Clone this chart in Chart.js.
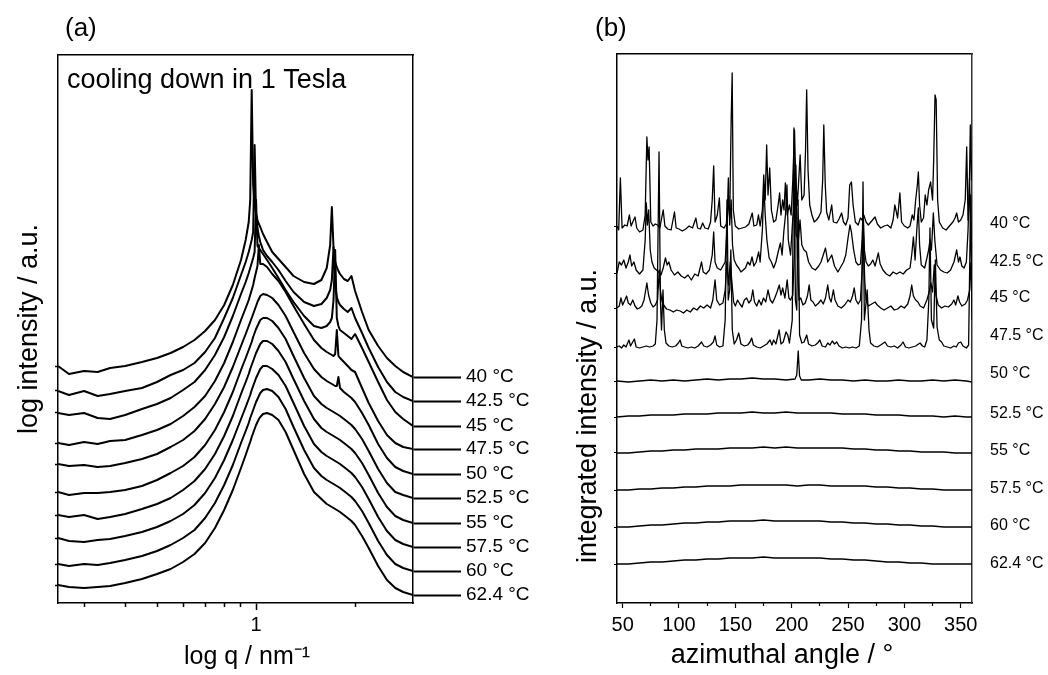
<!DOCTYPE html>
<html>
<head>
<meta charset="utf-8">
<script src="https://cdn.jsdelivr.net/npm/chart.js@4"></script>
<style>
  html, body { margin: 0; padding: 0; background: #fff; }
  #wrap { position: relative; width: 1048px; height: 675px; overflow: hidden; background: #fff; }
  canvas { position: absolute; top: 0; }
  #chartA { left: 0; }
  #chartB { left: 560px; }
</style>
</head>
<body>
<div id="wrap">
  <canvas id="chartA" width="560" height="675"></canvas>
  <canvas id="chartB" width="488" height="675"></canvas>
</div>
<script>
// ---- panel (a): SAXS profiles, q in nm^-1, log intensity (a.u., offset per temperature)
const qA = [0.25,0.27,0.3,0.33,0.36,0.4,0.45,0.5,0.55,0.6,
  0.65,0.7,0.75,0.8,0.85,0.9,0.93,0.95,0.96,0.97,
  0.98,0.99,1.0,1.01,1.02,1.03,1.05,1.08,1.12,1.17,
  1.23,1.3,1.4,1.5,1.58,1.64,1.68,1.7,1.72,1.74,
  1.76,1.78,1.8,1.85,1.9,1.95,2.0,2.1,2.2,2.35,
  2.5,2.65,2.8,3.0];

const a40 = [237,229,232,231,235,237,241,245,250,256, 263,272,283,298,318,343,363,381,403,513,
  418,398,389,383,379,376,369,361,351,344, 336,327,321,319,323,335,358,396,355,341,
  336,332,329,324,322,327,312,291,273,257, 245,237,231,226];
const a425 = [212,208,212,207,209,212,215,221,228,233, 240,251,265,285,305,328,341,351,357,363,
  371,458,388,375,367,361,353,347,341,333, 322,311,301,297,299,305,313,323,356,319,
  306,301,298,294,291,295,285,270,255,236, 221,211,206,202];
const a45 = [190,188,190,185,184,188,194,199,205,213, 221,233,248,266,287,309,321,330,335,340,
  345,351,403,357,355,353,349,343,335,325, 313,301,287,277,275,277,281,285,303,353,
  285,277,273,270,267,264,269,255,241,221, 203,191,184,177];
const a475 = [160,158,161,159,162,163,168,173,179,187, 196,207,222,240,261,283,295,303,308,313,
  318,325,331,337,358,339,339,336,329,322, 311,297,279,263,255,251,249,248,247,249,
  273,247,245,241,237,233,231,215,200,182, 168,160,156,154];
const a50 = [139,137,138,136,137,140,144,149,156,163, 172,184,199,216,236,257,269,277,281,285,
  289,293,297,301,304,307,309,308,305,298, 287,271,250,234,226,222,220,219,218,217,
  217,226,215,211,208,205,201,190,178,159, 145,136,132,129];
const a525 = [111,108,110,110,111,113,117,123,130,137, 146,158,173,191,211,233,245,253,257,261,
  266,270,274,277,280,283,285,285,282,275, 264,247,225,207,199,195,193,192,191,190,
  189,188,187,184,181,178,174,164,152,134, 120,111,108,105];
const a55 = [88,86,88,84,86,89,94,99,105,113, 122,134,149,167,187,209,221,229,234,238,
  242,246,250,253,256,259,262,262,259,252, 241,224,202,184,175,171,169,168,167,166,
  165,164,163,160,157,154,150,140,128,110, 96,87,83,80];
const a575 = [65,62,61,63,64,67,71,76,82,89, 98,110,125,143,163,184,196,204,208,213,
  217,221,225,228,231,234,237,237,234,228, 217,200,177,159,151,147,145,144,143,142,
  141,140,139,136,133,130,126,116,104,86, 72,63,59,56];
const a60 = [39,37,39,38,40,43,47,52,58,65, 73,85,100,118,138,160,172,180,185,189,
  193,197,201,204,207,210,213,214,212,206, 194,176,153,135,127,123,121,120,119,118,
  117,116,115,112,109,106,102,92,80,62, 48,39,35,32];
const a624 = [18,16,15,16,17,20,24,29,34,41, 49,60,75,93,113,135,148,157,161,166,
  170,174,178,181,184,186,189,190,188,183, 171,153,129,111,104,99,97,96,95,94,
  93,92,91,88,85,82,78,67,55,37, 23,15,11,8];

const tempLabels = ['40 °C','42.5 °C','45 °C','47.5 °C','50 °C','52.5 °C','55 °C','57.5 °C','60 °C','62.4 °C'];
const qMajor = [1];
const qMinor = [0.3,0.4,0.5,0.6,0.7,0.8,0.9,2];

// ---- panel (b): azimuthal profiles, angle in degrees, integrated intensity (a.u., offset)
const b40Angle = [45,46.5,48,49.5,52,54,56,57.5,59,61,
  62.5,65,68,70,71.5,72.5,73.5,75,77,79,
  81,83,86,87.5,90,93,96,97.5,100,103,
  106,109,112,115,116.5,119,121,123,126,128,
  129.5,130.8,132,134,135.8,137,140,142,143.5,145,
  146.3,147.2,148.2,150,153,156,159,162,165,166.5,
  169,170.5,172,174,175.2,176.5,177.8,179,180.5,182,
  184,186,188,189.3,190.5,192,193.2,194.4,196,198,
  199.5,201,202.5,203.5,205,206.5,207.5,209,211,212.3,
  213.3,214.5,216,218,220,222,224,226,227.5,228.5,
  229.8,231,233,235.5,237,240,242,244.3,246,248,
  250,251.5,253,254.5,256.5,259,261,262.5,264,266,
  268,271,274,276,279,282,285,288,290,291.5,
  292.5,294,296,297.5,300,303,305,307,308.5,310,
  311.5,312.4,313.5,315,317,318.5,320,321.5,323.3,325,
  326,327.2,328.2,329.5,331,334,337,340,343,345,
  346.4,348,350,352,354,355.3,356.5,357.5,358.5,359.5,
  360];
const b40 = [377,373,425,375,378,377,388,377,381,386,
  375,371,373,388,466,443,456,381,377,379,
  378,375,393,377,374,373,391,375,374,372,
  374,377,375,385,375,374,380,375,374,381,
  403,437,381,388,405,377,375,379,401,385,
  483,530,393,377,374,375,376,379,390,377,
  378,388,377,393,428,403,458,408,435,393,
  381,383,398,410,388,403,393,420,388,398,
  388,423,473,428,398,428,448,403,408,453,
  513,433,398,388,381,383,386,391,423,478,
  418,391,383,398,381,380,384,390,381,378,
  385,418,421,398,381,378,385,383,388,381,
  378,382,386,379,375,377,378,375,383,398,
  393,385,410,381,377,375,377,388,383,403,
  418,431,398,381,385,408,398,413,421,403,
  443,508,503,403,381,375,373,377,381,385,
  390,381,383,388,403,456,383,403,478,423,
  443];

const b425Angle = [45,47,49,51,53,55,56.5,58,60,62,
  65,68,70,71,72,73.1,74.5,76,78,80,
  82,84,86,88,89.5,91,93,96,99,102,
  105,108,111,114,117,120,121.5,124,127,129.5,
  130.8,132,134,137,139,141,142.5,143.8,145,146.3,
  147.5,149,151,153,155,157,159,161,163,164.8,
  166.5,168.5,170.7,172,174,175.3,176.5,178,180,182,
  184,186,188,190,191.5,193,194.5,195.8,197,199,
  201,202.5,204,206,207.4,209,211,213,215,218,
  221,224,226,228,230,232,235.5,238,241,244,
  246,248,250,251.7,253,255,257,259,261,262.5,
  263.5,264.5,266,268,270,272,274,276.9,278.5,281,
  284,287,290,293,296,299,302,305,306.5,308,
  309.5,311,312.4,313.5,315,318,320,321.5,322.7,324,
  325.7,327,329,332,335,338,341,344,346.4,348,
  349.3,351,353,355,356.5,357.8,359,360];
const b425 = [330,341,338,343,335,341,348,337,341,333,
  329,333,363,400,378,393,353,341,335,333,
  331,328,335,345,338,341,333,328,331,327,
  325,328,323,329,327,341,331,329,333,348,
  371,341,335,333,337,341,373,425,378,403,
  358,343,338,335,331,333,335,341,338,346,
  337,341,351,341,373,418,388,363,345,341,
  335,341,351,360,348,371,388,418,363,348,
  385,398,368,363,383,358,353,351,341,335,
  333,337,341,348,355,341,348,337,331,337,
  341,348,365,378,371,353,341,338,339,363,
  388,353,341,337,339,343,337,350,339,333,
  329,327,331,329,331,329,333,335,348,366,
  343,373,395,358,338,335,345,353,363,353,
  390,363,338,333,331,330,333,341,353,341,
  346,337,335,341,373,425,363,338];

const b45Angle = [45,47,48.5,50,52,53.5,55,57,59,61,
  63,65,67,69,71.5,73,75,77,79,81,
  82.5,83.5,85,87,89,92,95,98,101,104,
  107,110,113,116,119,122,125,128,130,132,
  133.5,136,139,141,142.5,144,145.5,146.8,148.5,150,
  152,154,156,158,160,162,164,165.5,167,169,
  171,173,175,177,179,181,183,185,187,189,
  190.5,192,194,196,197.5,199,201,202.5,203.7,205,
  206.5,208,210,212,214,215.5,217,219,221,224,
  226,228,230,232,233.5,235,237,238.5,241,244,
  247,250,252,254,255.5,257,259,261,262.5,263.7,
  264.8,266,268,271,274,276,279,282,285,288,
  291,294,297,300,303,305,306.5,308,310,312,
  314,317,320,322,323.5,325,326.5,328,330,333,
  336,339,342,344,345.5,347.5,349,351,354,356,
  358,359,360];
const b45 = [295,297,305,298,303,307,300,298,303,297,
  294,295,297,303,320,308,300,296,298,303,
  333,313,301,297,294,293,291,293,292,290,
  293,291,295,293,297,295,298,295,303,323,
  303,298,300,313,341,318,341,323,301,297,
  303,299,296,303,305,300,303,313,301,297,
  303,298,305,301,313,303,300,305,311,318,
  308,315,305,323,305,303,308,353,438,348,
  303,305,298,300,307,318,303,301,297,300,
  303,299,305,318,305,301,313,303,297,295,
  298,303,301,307,315,303,299,303,333,368,
  323,303,297,299,301,298,295,293,295,297,
  293,294,297,295,299,307,318,307,303,301,
  297,295,303,311,320,311,338,308,298,295,
  297,296,299,303,298,307,301,297,299,303,
  313,340,313];

const b475Angle = [45,47,49,51,53,55.6,57,60.4,62,65,
  68,71,74,77,79,80.5,82.3,83.5,84.5,85.8,
  87,88.5,91,94,97,99.5,101,102.5,105,108,
  111,114,117,120,122,125,128,130.5,132,133.5,
  136,139,141,142.6,143.7,145,146,147.3,149,151,
  153,155,158,161,163,164.5,166,169,172,175,
  178,180.8,182.5,184,186,188.9,190.5,192.5,195,196.5,
  198,200.5,202,203.3,204.5,205.7,207,209,211,213.3,
  215,218,221,223,225,227,230,232,234,236,
  238,240,242,245,248,251,254,257,260,262,
  263.3,264.5,265.8,267,268.6,270,273,276,279,282.8,
  285,288,291,294,297,298.8,301,304,307,310,
  313.9,316,318,320,321.7,322.7,324,326,327.5,329,
  331,333,335,338,341,344,346,348,350,352,
  355,357,358.8,360];
const b475 = [256,257,255,258,256,263,257,264,256,255,
  256,257,256,257,259,283,451,303,273,313,
  273,260,257,256,257,260,263,257,256,255,
  256,255,257,261,257,256,258,261,267,258,
  256,257,283,403,303,313,353,273,259,263,
  270,259,257,258,261,265,258,256,255,257,
  259,263,258,263,259,273,259,261,271,268,
  260,283,475,303,293,403,268,260,261,268,
  259,257,258,260,263,257,256,260,258,262,
  259,261,257,255,256,255,256,255,257,283,
  421,283,298,313,273,260,257,256,258,261,
  257,256,257,255,258,261,256,255,256,257,
  260,257,256,263,303,375,283,275,343,276,
  263,261,257,256,255,257,256,260,261,257,
  255,258,408,283];

const b50Angle = [45,55,65,75,85,95,105,115,125,135,
  145,155,165,175,185,195,203,204.5,205.8,207,
  208.5,215,225,235,245,255,265,275,285,295,
  305,315,325,335,345,355,360];
const b50 = [222,221,222,223,222,223,222,223,224,223,
  224,224,225,224,224,223,224,228,252,227,
  223,223,224,223,223,222,223,222,222,223,
  222,222,223,222,223,222,221];

const flatAngle = [45,55,65,75,85,95,105,115,125,135,145,155,165,175,185,195,205,
  215,225,235,245,255,265,275,285,295,305,315,325,335,345,355,360];
const b525 = [186,187,187,188,188,188,189,189,189,190,190,190,191,190,190,191,190,
  190,190,190,189,189,189,188,188,188,187,187,187,186,187,186,186];
const b55 = [150,150,151,152,152,153,153,154,154,154,155,155,155,156,155,156,155,
  155,155,155,155,154,154,153,153,152,152,151,151,151,150,150,150];
const b575 = [113,113,114,114,115,115,116,116,117,117,117,118,118,118,118,118,117,
  118,118,117,117,117,117,116,116,115,115,114,114,113,113,113,113];
const b60 = [76,76,77,78,78,79,80,80,81,81,82,82,82,83,82,82,82,
  82,82,81,81,80,80,79,79,78,78,77,77,76,76,76,76];
const b624 = [39,39,40,41,41,42,43,43,44,44,45,45,45,46,45,45,45,
  45,45,44,44,43,43,42,41,41,40,40,39,39,39,39,39];

const labelLevelsB = [379,341,305,267,229,189,152,114,77,39];
const angleMajor = [50,100,150,200,250,300,350];
const angleMinor = [75,125,175,225,275,325];

// ---- common
const black = '#000';
const fam = '"Liberation Sans", Arial, Helvetica, sans-serif';
Chart.defaults.font.family = fam;
Chart.defaults.color = black;

function pts(xs, ys) {
  return xs.map((x, i) => ({ x: x, y: ys[i] }));
}

// panel tag, note inside the frame and the axis titles that sit off-centre in the original
const panelText = {
  id: 'panelText',
  afterDraw(chart, args, o) {
    const ctx = chart.ctx, area = chart.chartArea;
    ctx.save();
    ctx.fillStyle = black;
    ctx.textAlign = 'left';
    ctx.textBaseline = 'alphabetic';
    ctx.font = '26px ' + fam;
    ctx.fillText(o.tag, o.tagX, 36);
    if (o.note) {
      ctx.font = '27px ' + fam;
      ctx.fillText(o.note, area.left + 9, area.top + 33);
    }
    ctx.textAlign = 'center';
    ctx.textBaseline = 'middle';
    if (o.xTitle) {
      ctx.font = o.xTitleSize + 'px ' + fam;
      ctx.fillText(o.xTitle, o.xTitleX, o.xTitleY);
    }
    if (o.yTitle) {
      ctx.translate(o.yTitleX, o.yTitleY);
      ctx.rotate(-Math.PI / 2);
      ctx.font = '27px ' + fam;
      ctx.fillText(o.yTitle, 0, 0);
    }
    ctx.restore();
  }
};

// ---- chart (a)
const curvesA = [a40, a425, a45, a475, a50, a525, a55, a575, a60, a624];

new Chart(document.getElementById('chartA'), {
  type: 'line',
  data: {
    datasets: curvesA.map((c, i) => ({
      label: tempLabels[i],
      data: pts(qA, c),
      borderColor: black,
      borderWidth: 2,
      borderJoinStyle: 'round',
      pointRadius: 0,
      tension: 0,
      fill: false
    }))
  },
  options: {
    responsive: false,
    animation: false,
    devicePixelRatio: 1,
    layout: { padding: { top: 55, left: 0, right: 0, bottom: 0 } },
    plugins: {
      legend: { display: false },
      tooltip: { enabled: false },
      panelText: {
        tag: '(a)', tagX: 65, note: 'cooling down in 1 Tesla',
        xTitle: 'log q / nm⁻¹', xTitleX: 247, xTitleY: 657, xTitleSize: 25
      }
    },
    scales: {
      x: {
        type: 'logarithmic', position: 'bottom', min: 0.25, max: 3, weight: 1,
        afterBuildTicks: s => { s.ticks = qMajor.map(v => ({ value: v, major: true })); },
        afterFit: s => { s.height = 72; },
        ticks: { callback: v => String(v), font: { size: 20 }, color: black, padding: 3, autoSkip: false, maxRotation: 0 },
        grid: { drawOnChartArea: false, drawTicks: true, tickLength: 7, tickWidth: 1.5, tickColor: black },
        border: { display: true, color: black, width: 1.5 }
      },
      xMinor: {
        type: 'logarithmic', position: 'bottom', min: 0.25, max: 3, weight: 0,
        afterBuildTicks: s => { s.ticks = qMinor.map(v => ({ value: v })); },
        afterFit: s => { s.height = 0; },
        ticks: { display: false },
        grid: { drawOnChartArea: false, drawTicks: true, tickLength: 4, tickWidth: 1.5, tickColor: black },
        border: { display: false }
      },
      xTop: {
        type: 'logarithmic', position: 'top', min: 0.25, max: 3,
        afterFit: s => { s.height = 0; },
        ticks: { display: false },
        grid: { drawOnChartArea: false, drawTicks: false },
        border: { display: true, color: black, width: 1.5 }
      },
      y: {
        type: 'linear', position: 'left', min: 0, max: 548,
        afterBuildTicks: s => { s.ticks = curvesA.map(c => ({ value: c[0] })); },
        afterFit: s => { s.width = 58; },
        ticks: { display: false },
        grid: { drawOnChartArea: false, drawTicks: true, tickLength: 3, tickWidth: 1.5, tickColor: black },
        border: { display: true, color: black, width: 1.5 },
        title: { display: true, text: 'log intensity / a.u.', font: { size: 27 }, color: black, padding: { top: 13, bottom: 0 } }
      },
      yRight: {
        type: 'linear', position: 'right', min: 0, max: 548,
        afterBuildTicks: s => { s.ticks = curvesA.map(c => ({ value: c[c.length - 1] })); },
        afterFit: s => { s.width = 147; },
        ticks: { callback: (v, i) => tempLabels[i], font: { size: 19 }, color: black, padding: 5, autoSkip: false },
        grid: { drawOnChartArea: false, drawTicks: true, tickLength: 48, tickWidth: 2, tickColor: black },
        border: { display: true, color: black, width: 1.5 }
      }
    }
  },
  plugins: [panelText]
});

// ---- chart (b)
const anglesB = [b40Angle, b425Angle, b45Angle, b475Angle, b50Angle, flatAngle, flatAngle, flatAngle, flatAngle, flatAngle];
const curvesB = [b40, b425, b45, b475, b50, b525, b55, b575, b60, b624];

new Chart(document.getElementById('chartB'), {
  type: 'line',
  data: {
    datasets: curvesB.map((c, i) => ({
      label: tempLabels[i],
      data: pts(anglesB[i], c),
      borderColor: black,
      borderWidth: 1.3,
      borderJoinStyle: 'round',
      pointRadius: 0,
      tension: 0,
      fill: false
    }))
  },
  options: {
    responsive: false,
    animation: false,
    devicePixelRatio: 1,
    layout: { padding: { top: 54, left: 0, right: 0, bottom: 0 } },
    plugins: {
      legend: { display: false },
      tooltip: { enabled: false },
      panelText: {
        tag: '(b)', tagX: 35,
        xTitle: 'azimuthal angle / °', xTitleX: 222, xTitleY: 656, xTitleSize: 27,
        yTitle: 'integrated intensity / a.u.', yTitleX: 29, yTitleY: 416
      }
    },
    scales: {
      x: {
        type: 'linear', position: 'bottom', min: 45, max: 360, weight: 1,
        afterBuildTicks: s => { s.ticks = angleMajor.map(v => ({ value: v })); },
        afterFit: s => { s.height = 72; },
        ticks: { callback: v => String(v), font: { size: 20 }, color: black, padding: 5, autoSkip: false, maxRotation: 0 },
        grid: { drawOnChartArea: false, drawTicks: true, tickLength: 5, tickWidth: 1.2, tickColor: black },
        border: { display: true, color: black, width: 1.5 }
      },
      xMinor: {
        type: 'linear', position: 'bottom', min: 45, max: 360, weight: 0,
        afterBuildTicks: s => { s.ticks = angleMinor.map(v => ({ value: v })); },
        afterFit: s => { s.height = 0; },
        ticks: { display: false },
        grid: { drawOnChartArea: false, drawTicks: true, tickLength: 3, tickWidth: 1.2, tickColor: black },
        border: { display: false }
      },
      xTop: {
        type: 'linear', position: 'top', min: 45, max: 360,
        afterFit: s => { s.height = 0; },
        ticks: { display: false },
        grid: { drawOnChartArea: false, drawTicks: false },
        border: { display: true, color: black, width: 1.5 }
      },
      y: {
        type: 'linear', position: 'left', min: 0, max: 549,
        afterBuildTicks: s => { s.ticks = curvesB.map(c => ({ value: c[0] })); },
        afterFit: s => { s.width = 57; },
        ticks: { display: false },
        grid: { drawOnChartArea: false, drawTicks: true, tickLength: 3, tickWidth: 1.2, tickColor: black },
        border: { display: true, color: black, width: 1.5 }
      },
      yRight: {
        type: 'linear', position: 'right', min: 0, max: 549,
        afterBuildTicks: s => { s.ticks = labelLevelsB.map(v => ({ value: v })); },
        afterFit: s => { s.width = 76; },
        ticks: { callback: (v, i) => tempLabels[i], font: { size: 16 }, color: black, padding: 18, autoSkip: false },
        grid: { drawOnChartArea: false, drawTicks: false },
        border: { display: true, color: '#333', width: 1.5 }
      }
    }
  },
  plugins: [panelText]
});
</script>
</body>
</html>
